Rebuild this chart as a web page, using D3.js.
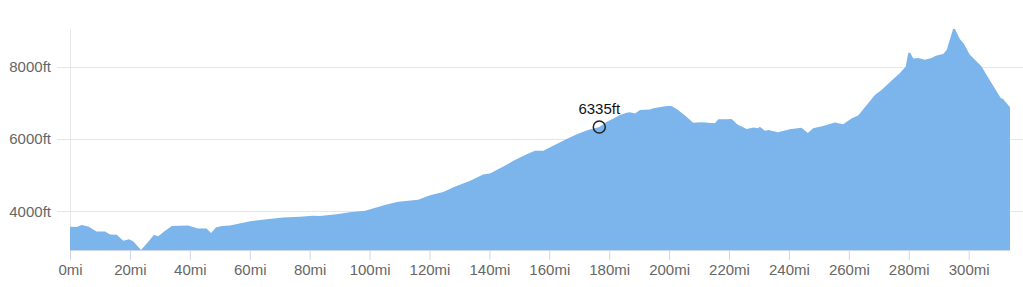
<!DOCTYPE html>
<html>
<head>
<meta charset="utf-8">
<script src="https://cdn.jsdelivr.net/npm/d3@7"></script>
<style>
  html, body { margin: 0; padding: 0; background: #fff; }
  svg { display: block; font-family: "Liberation Sans", Arial, sans-serif; }
</style>
</head>
<body>
<div id="chart"></div>
<script>
// distance along route (mi) and elevation (ft)
const miles = [0, 2.2, 3.9, 6.1, 8.9, 11.7, 13.4, 15.6, 17.8, 19.7, 21.1, 23.7, 26, 28, 29.5, 31.4, 34, 39.4,
  42.8, 45.6, 47.1, 48.7, 50.7, 53.4, 60.1, 65.7, 71.2, 76.8, 81.1, 83.4, 89, 93.4, 98.5, 105.7, 109.6,
  116.2, 120.2, 124.6, 128, 133.8, 137.9, 140.2, 142.9, 145.9, 148, 152.5, 155.2, 158, 161.3, 165.8, 169.2,
  172.9, 176.7, 179.1, 182.5, 183.6, 185.8, 186.9, 188.6, 190.3, 193.6, 194.7, 199.2, 200.8, 203, 205.8,
  208, 210.8, 215.3, 216.4, 219.2, 220.9, 222.8, 225.9, 228.1, 229.7, 230.3, 232, 233.1, 236.4, 237,
  240.3, 244.2, 246.3, 248.1, 251.4, 255.3, 258.1, 261, 263.1, 265.7, 268.7, 270.9, 274.3, 277, 279,
  279.8, 280.5, 281.5, 283.1, 285.4, 287.6, 289, 291.5, 292.7, 294.8, 295.4, 297, 298.4, 300.4, 301.5,
  304.3, 307.4, 310.7, 311.5, 313.8];
const elevation = [3575, 3564, 3619, 3583, 3444, 3444, 3361, 3353, 3186, 3228, 3175, 2930, 3144, 3347, 3311, 3444, 3597, 3611,
  3528, 3528, 3403, 3556, 3597, 3611, 3728, 3783, 3828, 3847, 3875, 3869, 3922, 3972, 4014, 4186, 4264,
  4319, 4444, 4536, 4667, 4853, 5019, 5047, 5167, 5297, 5397, 5583, 5675, 5675, 5814, 6000, 6131,
  6250, 6335, 6470, 6619, 6667, 6731, 6742, 6708, 6806, 6819, 6853, 6917, 6917, 6806, 6619,
  6453, 6467, 6436, 6547, 6547, 6556, 6403, 6278, 6319, 6297, 6339, 6231, 6250, 6186, 6203,
  6272, 6314, 6167, 6297, 6361, 6458, 6408, 6575, 6653, 6917, 7222, 7361, 7625, 7825, 8008,
  8381, 8389, 8228, 8242, 8194, 8242, 8306, 8353, 8472, 9047, 9047, 8778, 8639, 8333, 8242,
  8008, 7583, 7139, 7111, 6881];

const xTicks = [0, 20, 40, 60, 80, 100, 120, 140, 160, 180, 200, 220, 240, 260, 280, 300];
const yTicks = [4000, 6000, 8000];
const marker = { mi: 176.7, ft: 6335 };

const width = 1023, height = 287;
const margin = { left: 70, right: 1010, top: 29, bottom: 250 };

const data = miles.map((m, i) => ({ mi: m, ft: elevation[i] }));

const x = d3.scaleLinear().domain([0, d3.max(miles)]).range([margin.left, margin.right]);
const y = d3.scaleLinear().domain(d3.extent(elevation)).range([margin.bottom, margin.top]);

const svg = d3.select("#chart").append("svg")
  .attr("width", width)
  .attr("height", height);

// horizontal grid
svg.append("g")
  .selectAll("line")
  .data(yTicks)
  .join("line")
  .attr("x1", 57).attr("x2", width)
  .attr("y1", d => Math.round(y(d)) + 0.5)
  .attr("y2", d => Math.round(y(d)) + 0.5)
  .attr("stroke", "#e6e6e6");

// vertical axis line
svg.append("line")
  .attr("x1", margin.left + 0.5).attr("x2", margin.left + 0.5)
  .attr("y1", margin.top).attr("y2", margin.bottom)
  .attr("stroke", "#e6e6e6");

const area = d3.area()
  .x(d => x(d.mi))
  .y0(margin.bottom)
  .y1(d => y(d.ft));

svg.append("path")
  .datum(data)
  .attr("d", area)
  .attr("fill", "#7cb5ec");

// x axis
const xAxis = svg.append("g")
  .attr("transform", `translate(0,${margin.bottom})`)
  .call(d3.axisBottom(x).tickValues(xTicks).tickSizeInner(10).tickSizeOuter(0).tickPadding(4).tickFormat(d => d + "mi"));
xAxis.select(".domain").attr("stroke", "#ccd6eb");
xAxis.selectAll(".tick line").attr("stroke", "#ccd6eb");
xAxis.selectAll(".tick text")
  .attr("fill", "#666")
  .style("font-size", "15px")
  .style("font-family", "'Liberation Sans', Arial, sans-serif");

// y axis labels
const yAxis = svg.append("g")
  .attr("transform", `translate(${margin.left},0)`)
  .call(d3.axisLeft(y).tickValues(yTicks).tickSize(0).tickPadding(19).tickFormat(d => d + "ft"));
yAxis.select(".domain").remove();
yAxis.selectAll(".tick text")
  .attr("fill", "#666")
  .style("font-size", "15px")
  .style("font-family", "'Liberation Sans', Arial, sans-serif");

// marker
svg.append("circle")
  .attr("cx", x(marker.mi))
  .attr("cy", y(marker.ft))
  .attr("r", 6)
  .attr("fill", "none")
  .attr("stroke", "#222")
  .attr("stroke-width", 1.5);

svg.append("text")
  .attr("x", x(marker.mi))
  .attr("y", y(marker.ft) - 13)
  .attr("text-anchor", "middle")
  .attr("fill", "#111")
  .style("font-size", "15px")
  .text(marker.ft + "ft");
</script>
</body>
</html>
